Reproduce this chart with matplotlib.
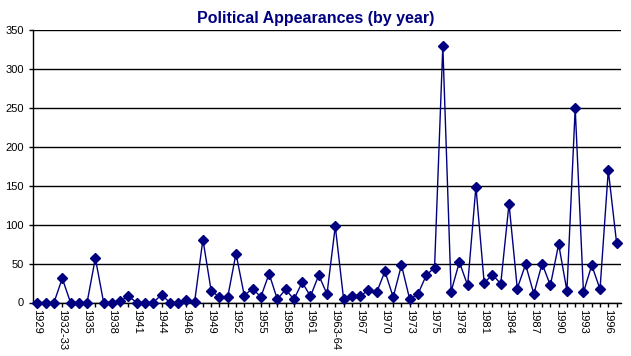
import matplotlib
matplotlib.use("Agg")
import matplotlib.pyplot as plt

tick_labels = ["1929", "", "", "1932-33", "", "", "1935", "", "", "1938", "", "",
               "1941", "", "", "1944", "", "", "1946", "", "", "1949", "", "",
               "1952", "", "", "1955", "", "", "1958", "", "", "1961", "", "",
               "1963-64", "", "", "1967", "", "", "1970", "", "", "1973", "", "",
               "1975", "", "", "1978", "", "", "1981", "", "", "1984", "", "",
               "1987", "", "", "1990", "", "", "1993", "", "", "1996", ""]

appearances = [0, 0, 0, 31, 0, 0, 0, 57, 0, 0, 2, 8, 0, 0, 0, 10, 0, 0, 3, 1,
               81, 15, 7, 7, 63, 9, 18, 7, 37, 4, 17, 4, 26, 8, 35, 11, 98, 5, 9, 8,
               16, 13, 40, 7, 48, 4, 11, 35, 45, 330, 14, 52, 22, 149, 25, 36, 24, 127, 18, 49,
               11, 50, 22, 75, 15, 250, 13, 48, 17, 170, 77]

plt.rcParams['font.family'] = ['Liberation Sans', 'DejaVu Sans']

fig = plt.figure(figsize=(6.31, 3.56), dpi=100)
ax = fig.add_axes([33.3/631, 1 - 302.5/356, (620.7-33.3)/631, (302.5-30.3)/356])

x = list(range(len(appearances)))
ax.plot(x, appearances, color='#000080', linewidth=1.0, marker='D', markersize=5,
        markerfacecolor='#000080', markeredgecolor='#000080', clip_on=False, zorder=3)

ax.set_xlim(-0.5, len(appearances) - 0.5)
ax.set_ylim(0, 350)
ax.set_yticks(range(0, 351, 50))
ax.yaxis.grid(True, color='black', linewidth=1.0)
ax.set_axisbelow(True)

ax.set_xticks(x)
ax.set_xticklabels(tick_labels, rotation=270, fontsize=8, va='top', ha='center')
ax.tick_params(axis='x', length=3, width=1, color='black', pad=2)
ax.tick_params(axis='y', length=3, width=1, color='black', labelsize=8, pad=4)

for s in ['top', 'right']:
    ax.spines[s].set_visible(False)
for s in ['left', 'bottom']:
    ax.spines[s].set_linewidth(1.0)
    ax.spines[s].set_color('black')

fig.text(0.5, 1 - 19/356, "Political Appearances (by year)", ha='center', va='center',
         fontsize=11.5, fontweight='bold', color='#000080')

fig.savefig("out.png", dpi=100)
